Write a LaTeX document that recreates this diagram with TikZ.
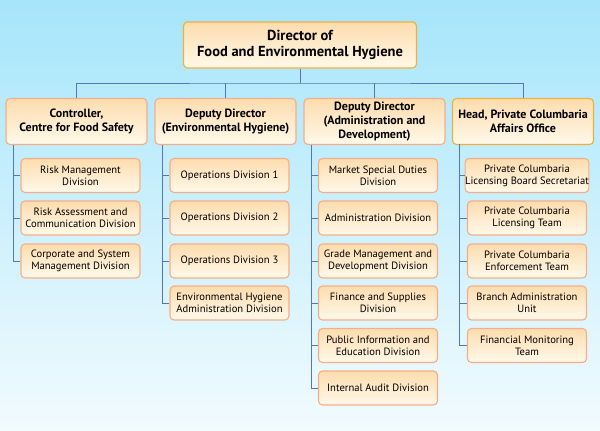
\documentclass[tikz,border=0pt]{standalone}
\usepackage{fontspec}
\setmainfont{PT Sans}
\definecolor{bgtop}{HTML}{A6E5FB}
\definecolor{bgbot}{HTML}{F2FBFE}
\definecolor{boxtop}{HTML}{FDDCAE}
\definecolor{boxbot}{HTML}{FFF9EA}
\definecolor{edge}{HTML}{F6AE88}
\definecolor{gold}{HTML}{F1B03A}
\definecolor{conn}{HTML}{5577B8}
\tikzset{
  base/.style={rounded corners=4pt, line width=1.1pt, top color=boxtop, bottom color=boxbot, align=center, inner sep=0pt, text=black},
  topbox/.style={base, draw=gold, minimum width=233pt, minimum height=46pt, font=\fontsize{14.5}{16.5}\selectfont\bfseries},
  headbox/.style={base, draw=edge, minimum width=141pt, minimum height=46pt, font=\fontsize{12}{14}\selectfont\bfseries},
  goldhead/.style={headbox, draw=gold},
  child/.style={base, draw=edge, minimum width=119pt, minimum height=34pt, font=\fontsize{10.6}{12}\selectfont},
  link/.style={draw=conn, line width=1pt},
}
\begin{document}
\begin{tikzpicture}[x=1pt,y=-1pt]
\useasboundingbox (0,0) rectangle (600,431);
\shade[top color=bgtop, bottom color=bgbot] (0,0) rectangle (600,431);

\node[topbox] (dir) at (300,45) {Director of\\Food and Environmental Hygiene};

\node[headbox] (c1) at (76.5,121.5) {Controller,\\Centre for Food Safety};
\node[headbox] (c2) at (225.5,121.5) {Deputy Director\\(Environmental Hygiene)};
\node[headbox] (c3) at (374.5,121.5) {Deputy Director\\(Administration and\\Development)};
\node[goldhead] (c4) at (523,121.5) {Head, Private Columbaria\\Affairs Office};

\coordinate (bus) at (300,83);
\draw[link] (dir.south) -- (bus);
\draw[link] (c1.north) |- (bus) -| (c4.north);
\draw[link] (c2.north) -- (c2.north |- bus);
\draw[link] (c3.north) -- (c3.north |- bus);

% column 1
\node[child] (a1) at (80.5,175.5) {Risk Management\\Division};
\node[child] (a2) at (80.5,218) {Risk Assessment and\\Communication Division};
\node[child] (a3) at (80.5,261) {Corporate and System\\Management Division};
\coordinate (v1) at (13,145);
% column 2
\node[child] (b1) at (229.5,175.5) {Operations Division 1};
\node[child] (b2) at (229.5,218) {Operations Division 2};
\node[child] (b3) at (229.5,261) {Operations Division 3};
\node[child] (b4) at (229.5,303) {Environmental Hygiene\\Administration Division};
\coordinate (v2) at (162,145);
% column 3
\node[child] (d1) at (378,175.5) {Market Special Duties\\Division};
\node[child] (d2) at (378,218) {Administration Division};
\node[child] (d3) at (378,261) {Grade Management and\\Development Division};
\node[child] (d4) at (378,303) {Finance and Supplies\\Division};
\node[child] (d5) at (378,345.5) {Public Information and\\Education Division};
\node[child] (d6) at (378,388) {Internal Audit Division};
\coordinate (v3) at (311,145);
% column 4
\node[child] (e1) at (527,175.5) {Private Columbaria\\Licensing Board Secretariat};
\node[child] (e2) at (527,218) {Private Columbaria\\Licensing Team};
\node[child] (e3) at (527,261) {Private Columbaria\\Enforcement Team};
\node[child] (e4) at (527,303) {Branch Administration\\Unit};
\node[child] (e5) at (527,345.5) {Financial Monitoring\\Team};
\coordinate (v4) at (459,144);

\draw[link] (v1) |- (a3.west);
\draw[link] (v1 |- a1.west) -- (a1.west);
\draw[link] (v1 |- a2.west) -- (a2.west);

\draw[link] (v2) |- (b4.west);
\foreach \n in {b1,b2,b3} \draw[link] (v2 |- \n.west) -- (\n.west);

\draw[link] (v3) |- (d6.west);
\foreach \n in {d1,d2,d3,d4,d5} \draw[link] (v3 |- \n.west) -- (\n.west);

\draw[link] (v4) |- (e5.west);
\foreach \n in {e1,e2,e3,e4} \draw[link] (v4 |- \n.west) -- (\n.west);
\end{tikzpicture}
\end{document}
